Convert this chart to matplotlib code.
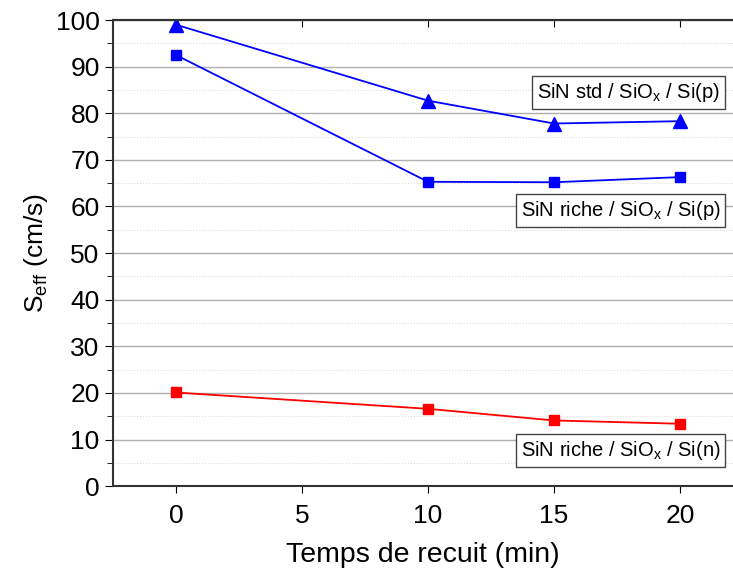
import matplotlib
matplotlib.use("Agg")
import matplotlib.pyplot as plt
from matplotlib.ticker import MultipleLocator

plt.rcParams["font.family"] = ["Liberation Sans", "DejaVu Sans"]
plt.rcParams["mathtext.fontset"] = "custom"
plt.rcParams["mathtext.rm"] = "Liberation Sans"

temps = [0, 10, 15, 20]
sin_std_p = [99.0, 82.7, 77.8, 78.3]
sin_riche_p = [92.5, 65.3, 65.2, 66.3]
sin_riche_n = [20.1, 16.6, 14.1, 13.4]

labels = [r"SiN std / SiO$_\mathrm{x}$ / Si(p)",
          r"SiN riche / SiO$_\mathrm{x}$ / Si(p)",
          r"SiN riche / SiO$_\mathrm{x}$ / Si(n)"]
label_y = [84.5, 59.2, 7.7]

fig = plt.figure(figsize=(7.33, 5.72), dpi=100)
ax = fig.add_axes([0.154, 0.150, 0.846, 0.815])

ax.plot(temps, sin_std_p, color="blue", marker="^", markersize=10, lw=1.3)
ax.plot(temps, sin_riche_p, color="blue", marker="s", markersize=7, lw=1.3)
ax.plot(temps, sin_riche_n, color="red", marker="s", markersize=7, lw=1.3)

for txt, y in zip(labels, label_y):
    ax.text(21.6, y, txt, ha="right", va="center", fontsize=14.5,
            bbox=dict(boxstyle="square,pad=0.25", fc="white", ec="#444444", lw=1))

ax.set_xlim(-2.5, 22.1)
ax.set_ylim(0, 100)
ax.xaxis.set_major_locator(MultipleLocator(5))
ax.yaxis.set_major_locator(MultipleLocator(10))
ax.yaxis.set_minor_locator(MultipleLocator(5))
ax.grid(which="major", axis="y", color="#b0b0b0", lw=1)
ax.grid(which="minor", axis="y", color="#dddddd", lw=0.8, ls=":")
ax.set_axisbelow(True)

ax.spines["right"].set_visible(False)
for s in ["left", "bottom", "top"]:
    ax.spines[s].set_linewidth(1.5)
    ax.spines[s].set_color("#333333")
ax.tick_params(axis="x", which="major", direction="out", length=5, labelsize=19, pad=8)
ax.tick_params(axis="y", which="both", direction="out", labelsize=19)
ax.tick_params(axis="y", which="minor", length=4)
ax.tick_params(axis="y", which="major", length=6)

top = ax.secondary_xaxis("top")
top.xaxis.set_major_locator(MultipleLocator(5))
top.tick_params(direction="in", length=5, labeltop=False)
top.spines["top"].set_linewidth(1.5)
top.spines["top"].set_color("#333333")

ax.set_xlabel("Temps de recuit (min)", fontsize=20.5, labelpad=10)
ax.set_ylabel(r"S$_\mathrm{eff}$ (cm/s)", fontsize=19)

fig.savefig("out.png", dpi=100)
